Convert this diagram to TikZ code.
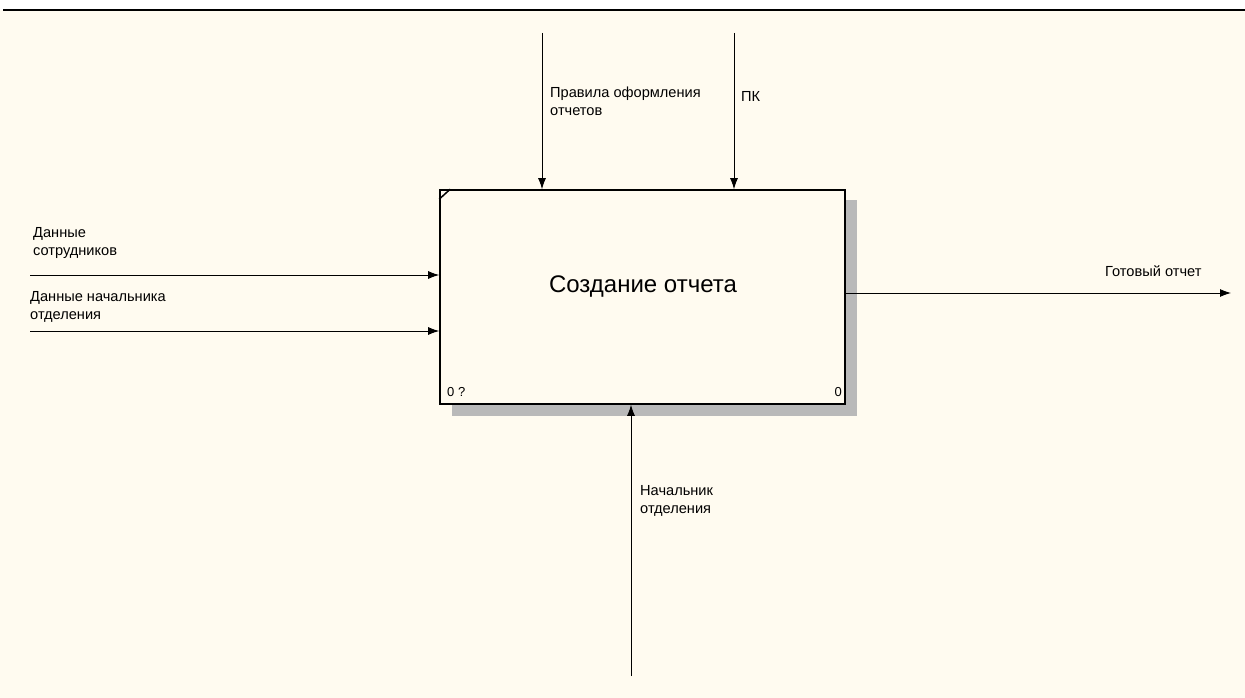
\documentclass[tikz,border=0pt]{standalone}
\usepackage{fontspec}
\setmainfont{Liberation Sans}
\usetikzlibrary{arrows.meta}
\definecolor{paper}{HTML}{FFFBF0}
\begin{document}
\begin{tikzpicture}[x=1pt,y=-1pt,
  flow/.style={draw=black,line width=0.9pt,-{Latex[length=11pt,width=8pt]}},
  lbl/.style={font=\fontsize{14.6}{18}\selectfont,align=left,anchor=west,inner sep=0pt},
  funcbox/.style={draw=black,line width=1.6pt,fill=paper,minimum width=405pt,minimum height=214pt,inner sep=0pt}]
\useasboundingbox (0,0) rectangle (1245,698);
\fill[white] (0,0) rectangle (1245,10);
\fill[paper] (0,10) rectangle (1245,698);
\draw[line width=1.3pt] (3,10) -- (1245,10);
% shadow
\fill[gray!55] (452,404) rectangle (857,416);
\fill[gray!55] (845,200) rectangle (857,416);
% activity box
\node[funcbox] (fn) at (642.5,297) {};
\node[font=\fontsize{24}{28}\selectfont] (title) at (643,287) {Создание отчета};
\draw[line width=1.5pt] ([yshift=-10pt]fn.north west) -- ([xshift=11pt]fn.north west);
\node[lbl,font=\fontsize{13}{15}\selectfont] (num1) at (447,392) {0 ?};
\node[lbl,font=\fontsize{13}{15}\selectfont,anchor=east] (num2) at (842,392) {0};
% connector end points
\coordinate (c1) at (542,33);
\coordinate (c2) at (734,33);
\coordinate (i1) at (30,275);
\coordinate (i2) at (30,331);
\coordinate (o1) at (1231,293);
\coordinate (m1) at (631,676);
\draw[flow] (c1) -- (c1 |- fn.north);
\draw[flow] (c2) -- (c2 |- fn.north);
\draw[flow] (i1) -- (i1 -| fn.west);
\draw[flow] (i2) -- (i2 -| fn.west);
\draw[flow] (o1 -| fn.east) -- (o1);
\draw[flow] (m1) -- (m1 |- fn.south);
% labels
\node[lbl] (l1) at (550,101) {Правила оформления\\отчетов};
\node[lbl] (l2) at (741,96) {ПК};
\node[lbl] (l3) at (33,243) {Данные\\сотрудников};
\node[lbl] (l4) at (30,307) {Данные начальника\\отделения};
\node[lbl] (l5) at (1105,271) {Готовый отчет};
\node[lbl] (l6) at (640,501) {Начальник\\отделения};
\end{tikzpicture}
\end{document}
